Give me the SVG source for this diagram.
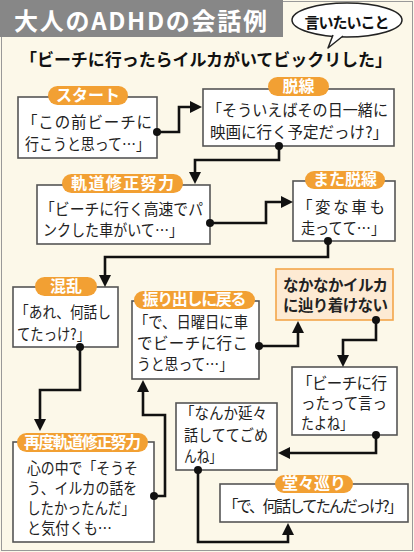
<svg xmlns="http://www.w3.org/2000/svg" width="414" height="552" viewBox="0 0 414 552">
<defs>
<style>
text{font-family:"Noto Sans CJK JP","Noto Sans",sans-serif;}
.box{fill:#fff;stroke:#555;stroke-width:1.6;}
.hl{fill:#FDEAD3;stroke:#F3A64A;stroke-width:1.6;}
.pill{fill:#F2A033;}
.pt{fill:#fff;font-size:16px;font-weight:bold;text-anchor:middle;}
.t{fill:#222;font-size:15.5px;}
.tb{fill:#222;font-size:15.5px;font-weight:bold;}
.ln{fill:none;stroke:#111;stroke-width:2.6;stroke-linejoin:miter;}
.dot{fill:#111;}
</style>
<marker id="ah" viewBox="0 0 12 12" refX="6" refY="6" markerWidth="12" markerHeight="12" markerUnits="userSpaceOnUse" orient="auto">
<path d="M0,0 L12,6 L0,12 z" fill="#111"/>
</marker>
</defs>
<rect x="0" y="0" width="414" height="552" fill="#FCF8E9"/>
<rect x="1.5" y="1.5" width="411" height="549" fill="none" stroke="#999" stroke-width="1"/>
<g id="title">
<rect x="0" y="0" width="283" height="37" fill="#878787"/>
<text x="14" y="30" font-size="24" font-weight="bold" fill="#fff" textLength="253">大人のADHDの会話例</text>
</g>
<g id="bubble">
<ellipse cx="347" cy="20" rx="55" ry="17" fill="#fff" stroke="#222" stroke-width="1.5"/>
<path d="M333,35 L328,48 L343,36" fill="#fff" stroke="#222" stroke-width="1.5" stroke-linejoin="round"/>
<path d="M334,34 L342,34" stroke="#fff" stroke-width="3"/>
<text x="347" y="28" font-size="15" font-weight="bold" fill="#111" text-anchor="middle" textLength="85">言いたいこと</text>
</g>
<g id="quote">
<text x="20" y="66" font-size="17" font-weight="bold" fill="#111" textLength="372">「ビーチに行ったらイルカがいてビックリした」</text>
</g>

<g id="n1">
<rect class="box" x="18" y="97" width="139" height="61"/>
<rect class="pill" x="48" y="86" width="80" height="19" rx="9.5"/>
<text class="pt" x="88" y="101">スタート</text>
<text class="t" x="22" y="128" textLength="130">「この前ビーチに</text>
<text class="t" x="25" y="150" textLength="125" lengthAdjust="spacingAndGlyphs">行こうと思って…」</text>
</g>
<g id="n2">
<rect class="box" x="203" y="89" width="191" height="57"/>
<rect class="pill" x="268" y="77" width="61" height="19" rx="9.5"/>
<text class="pt" x="298.5" y="92">脱線</text>
<text class="t" x="207" y="116" textLength="181" lengthAdjust="spacingAndGlyphs">「そういえばその日一緒に</text>
<text class="t" x="210" y="138" textLength="178">映画に行く予定だっけ?」</text>
</g>
<g id="n3">
<rect class="box" x="37" y="185" width="173" height="59"/>
<rect class="pill" x="62" y="174" width="121" height="19" rx="9.5"/>
<text class="pt" x="122.5" y="189" textLength="103">軌道修正努力</text>
<text class="t" x="40" y="215" textLength="163" lengthAdjust="spacingAndGlyphs">「ビーチに行く高速でパ</text>
<text class="t" x="43" y="236" textLength="140" lengthAdjust="spacingAndGlyphs">ンクした車がいて…」</text>
</g>
<g id="n4">
<rect class="box" x="293" y="181" width="102" height="60"/>
<rect class="pill" x="305" y="171" width="80" height="18" rx="9"/>
<text class="pt" x="345" y="185">また脱線</text>
<text class="t" x="297" y="213" textLength="88">「変な車も</text>
<text class="t" x="301" y="234" textLength="84" lengthAdjust="spacingAndGlyphs">走ってて…」</text>
</g>
<g id="n5">
<rect class="box" x="13" y="287" width="105" height="60"/>
<rect class="pill" x="35" y="277" width="62" height="19" rx="9.5"/>
<text class="pt" x="66" y="292">混乱</text>
<text class="t" x="15" y="318" textLength="96" lengthAdjust="spacingAndGlyphs">「あれ、何話し</text>
<text class="t" x="17" y="340" textLength="73" lengthAdjust="spacingAndGlyphs">てたっけ?」</text>
</g>
<g id="n6">
<rect class="box" x="13" y="442" width="141" height="100"/>
<rect class="pill" x="17" y="433" width="131" height="19" rx="9.5"/>
<text class="pt" x="82.5" y="448" font-size="15" textLength="117">再度軌道修正努力</text>
<text class="t" x="27" y="474" font-size="14.5" textLength="111" lengthAdjust="spacingAndGlyphs">心の中で「そうそ</text>
<text class="t" x="27" y="494" font-size="14.5" textLength="110" lengthAdjust="spacingAndGlyphs">う、イルカの話を</text>
<text class="t" x="27" y="514" font-size="14.5" textLength="108" lengthAdjust="spacingAndGlyphs">したかったんだ」</text>
<text class="t" x="27" y="534" font-size="14.5" textLength="85" lengthAdjust="spacingAndGlyphs">と気付くも…</text>
</g>
<g id="n7">
<rect class="box" x="132" y="301" width="127" height="78"/>
<rect class="pill" x="134" y="291" width="121" height="18" rx="9"/>
<text class="pt" x="194.5" y="305" font-size="15" textLength="104">振り出しに戻る</text>
<text class="t" x="134" y="328" textLength="114" lengthAdjust="spacingAndGlyphs">「で、日曜日に車</text>
<text class="t" x="137" y="349" textLength="111">でビーチに行こ</text>
<text class="t" x="137" y="370" textLength="96" lengthAdjust="spacingAndGlyphs">うと思って…」</text>
</g>
<g id="n8">
<rect class="hl" x="276" y="269" width="117" height="51"/>
<text class="tb" x="283" y="291" textLength="105">なかなかイルカ</text>
<text class="tb" x="283" y="311" textLength="105">に辿り着けない</text>
</g>
<g id="n9">
<rect class="box" x="292" y="367" width="105" height="68"/>
<text class="t" x="297" y="389" textLength="90">「ビーチに行</text>
<text class="t" x="301" y="409" textLength="86" lengthAdjust="spacingAndGlyphs">ったって言っ</text>
<text class="t" x="301" y="429" textLength="52" lengthAdjust="spacingAndGlyphs">たよね」</text>
</g>
<g id="n10">
<rect class="box" x="176" y="403" width="101" height="67"/>
<text class="t" x="180" y="419" textLength="87" lengthAdjust="spacingAndGlyphs">「なんか延々</text>
<text class="t" x="184" y="441" textLength="84" lengthAdjust="spacingAndGlyphs">話しててごめ</text>
<text class="t" x="184" y="462" textLength="38" lengthAdjust="spacingAndGlyphs">んね」</text>
</g>
<g id="n11">
<rect class="box" x="220" y="484" width="188" height="38"/>
<rect class="pill" x="275" y="475" width="78" height="18" rx="9"/>
<text class="pt" x="314" y="489">堂々巡り</text>
<text class="t" x="223" y="512" font-size="14.5" textLength="180">「で、何話してたんだっけ?」</text>
</g>

<g id="connectors">
<path class="ln" d="M157,132 H179 V107 H196" marker-end="url(#ah)"/>
<path class="ln" d="M279,146 V160 H195 V178" marker-end="url(#ah)"/>
<path class="ln" d="M210,223 H266 V202 H287" marker-end="url(#ah)"/>
<path class="ln" d="M328,241 V257 H105 V281" marker-end="url(#ah)"/>
<path class="ln" d="M80,347 V390 H40 V425" marker-end="url(#ah)"/>
<path class="ln" d="M154,496 H165 V415 H143 V386" marker-end="url(#ah)"/>
<path class="ln" d="M259,346 H298 V327" marker-end="url(#ah)"/>
<path class="ln" d="M376,320 V340 H343 V361" marker-end="url(#ah)"/>
<path class="ln" d="M376,435 V453 H284" marker-end="url(#ah)"/>
<path class="ln" d="M198,470 V542 H288 V529" marker-end="url(#ah)"/>
<circle class="dot" cx="157" cy="132" r="4"/>
<circle class="dot" cx="279" cy="146" r="4"/>
<circle class="dot" cx="210" cy="223" r="4"/>
<circle class="dot" cx="328" cy="241" r="4"/>
<circle class="dot" cx="80" cy="347" r="4"/>
<circle class="dot" cx="154" cy="496" r="4"/>
<circle class="dot" cx="259" cy="346" r="4"/>
<circle class="dot" cx="376" cy="320" r="4"/>
<circle class="dot" cx="376" cy="435" r="4"/>
<circle class="dot" cx="198" cy="470" r="4"/>
</g>
</svg>
